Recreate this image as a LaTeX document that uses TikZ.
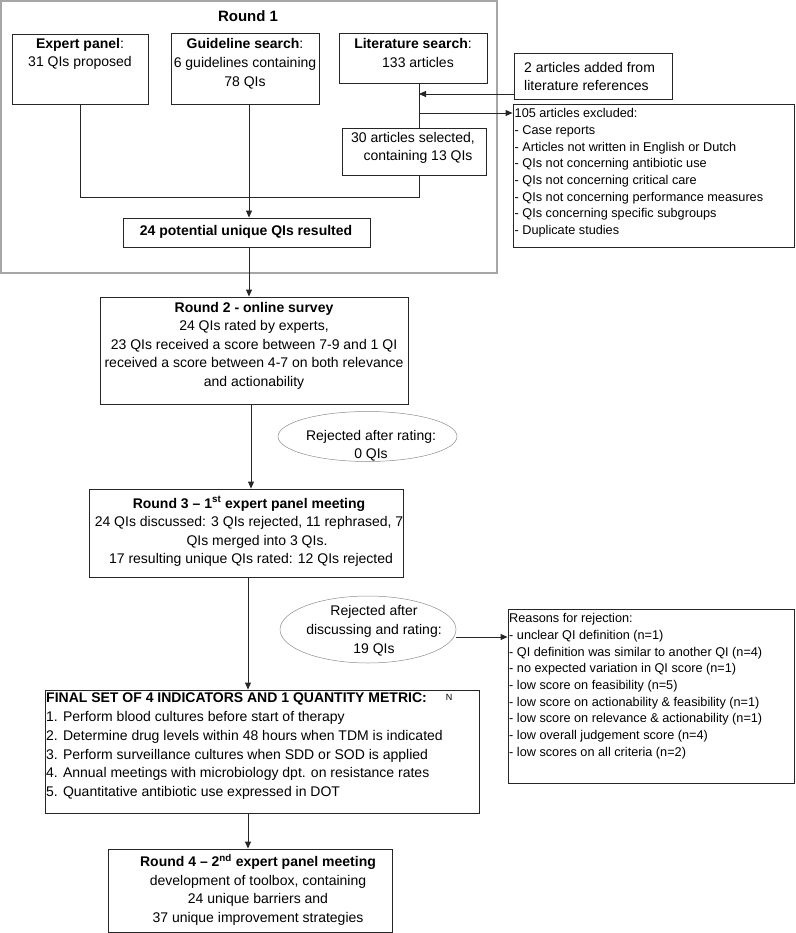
\documentclass[tikz,border=0pt]{standalone}
\usepackage{fontspec}
\setmainfont{Liberation Sans}
\usetikzlibrary{arrows.meta,fit,shapes.geometric}
\newcommand{\fsmain}{\fontsize{14pt}{18.5pt}\selectfont}
\newcommand{\fssmall}{\fontsize{12.7pt}{16.7pt}\selectfont}
\begin{document}
\begin{tikzpicture}[x=1pt,y=-1pt,
  box/.style={draw=black!85, line width=0.9pt, inner sep=0pt},
  grp/.style={draw=black!35, line width=1.2pt, inner sep=0pt},
  oval/.style={draw=black!45, line width=0.5pt, ellipse, inner sep=0pt},
  txt/.style={inner sep=0pt, align=center, font=\fsmain},
  ltxt/.style={inner sep=0pt, align=left, font=\fsmain},
  stxt/.style={inner sep=0pt, align=left, font=\fssmall},
  line/.style={draw=black!85, line width=0.9pt},
  arr/.style={line, -{Triangle[length=7pt,width=6pt]}}]
\useasboundingbox (0,0) rectangle (795,933);

% Round 1 group
\node[grp, fit={(1,1)(497,273)}] (r1) {};
\node[txt, anchor=base, font=\fontsize{15pt}{18pt}\selectfont\bfseries] (r1t) at (248,22) {Round 1};

\node[box, fit={(12,34)(148,104)}] (ep) {};
\node[txt, anchor=north] (ept) at (80,37.8) {\textbf{Expert panel}:\\31 QIs proposed};

\node[box, fit={(171,33)(319,104)}] (gs) {};
\node[txt, anchor=north, font=\fontsize{14pt}{19pt}\selectfont] (gst) at (245,37.8) {\textbf{Guideline search}:\\6 guidelines containing\\78 QIs};

\node[box, fit={(339,33)(487,83)}] (lit) {};
\node[txt, anchor=north, font=\fontsize{14pt}{19pt}\selectfont] (litt) at (413,37.8) {\textbf{Literature search}:\\\hspace*{10pt}133 articles};

\node[box, fit={(342,128)(486,175)}] (sel) {};
\node[txt, anchor=north] (selt) at (413,131.8) {30 articles selected,\\\hspace*{10pt}containing 13 QIs};

\node[box, fit={(123,218)(370,247)}] (pot) {};
\node[txt, anchor=base, font=\fsmain\bfseries] (pott) at (246,235) {24 potential unique QIs resulted};

\node[box, fit={(514,53)(672,99)}] (add) {};
\node[ltxt, anchor=north west] (addt) at (524,61.8) {2 articles added from\\literature references};

\node[box, fit={(513,104)(794,247)}] (exc) {};
\node[stxt, anchor=north west] (exct) at (514.5,108.3) {105 articles excluded:\\- Case reports\\- Articles not written in English or Dutch\\- QIs not concerning antibiotic use\\- QIs not concerning critical care\\- QIs not concerning performance measures\\- QIs concerning specific subgroups\\- Duplicate studies};

% Round 2
\node[box, fit={(100,297)(408,404)}] (r2) {};
\node[txt, anchor=north] (r2t) at (254,301.8) {\textbf{Round 2 - online survey}\\24 QIs rated by experts,\\23 QIs received a score between 7-9 and 1 QI\\received a score between 4-7 on both relevance\\and actionability};

\node[oval, minimum width=179pt, minimum height=50pt] (el1) at (367.5,436.5) {};
\node[txt, anchor=north, font=\fontsize{14pt}{18pt}\selectfont] (el1t) at (371,429.8) {Rejected after rating:\\0 QIs};

% Round 3
\node[box, fit={(89,489)(403,577)}] (r3) {};
\node[txt, anchor=north] (r3t) at (249,496.3) {\textbf{Round 3 \textendash{} 1\textsuperscript{st} expert panel meeting}\\24 QIs discussed: 3 QIs rejected, 11 rephrased, 7\\\hspace*{16pt}QIs merged into 3 QIs.\\\hspace*{4pt}17 resulting unique QIs rated: 12 QIs rejected};

\node[oval, minimum width=176pt, minimum height=67pt] (el2) at (368,629.5) {};
\node[txt, anchor=north, font=\fontsize{14pt}{19pt}\selectfont] (el2t) at (374,604.8) {Rejected after\\discussing and rating:\\19 QIs};

\node[box, fit={(508,609)(794,783)}] (rea) {};
\node[stxt, anchor=north west] (reat) at (509,613.3) {Reasons for rejection:\\- unclear QI definition (n=1)\\- QI definition was similar to another QI (n=4)\\- no expected variation in QI score (n=1)\\- low score on feasibility (n=5)\\- low score on actionability \& feasibility (n=1)\\- low score on relevance \& actionability (n=1)\\- low overall judgement score (n=4)\\- low scores on all criteria (n=2)};

% Final set
\node[box, fit={(45,690)(479,813)}] (fin) {};
\node[ltxt, anchor=north west, font=\fontsize{14pt}{18.8pt}\selectfont] (fint) at (46,692.8) {\textbf{FINAL SET OF 4 INDICATORS AND 1 QUANTITY METRIC:}\\1. Perform blood cultures before start of therapy\\2. Determine drug levels within 48 hours when TDM is indicated\\3. Perform surveillance cultures when SDD or SOD is applied\\4. Annual meetings with microbiology dpt. on resistance rates\\5. Quantitative antibiotic use expressed in DOT};
\node[inner sep=0pt, font=\fontsize{9pt}{9pt}\selectfont] (nmark) at (449,697) {N};

% Round 4
\node[box, fit={(108,849)(392,932)}] (r4) {};
\node[txt, anchor=north] (r4t) at (258,854.3) {\textbf{Round 4 \textendash{} 2\textsuperscript{nd} expert panel meeting}\\development of toolbox, containing\\24 unique barriers and\\37 unique improvement strategies};

% connectors
\coordinate (jr) at (419,197);
\coordinate (ain) at (419,94);
\coordinate (eout) at (419,113);
\coordinate (ax) at (249,0);
\coordinate (bx) at (251,0);
\coordinate (cx) at (248,0);
\coordinate (ry) at (0,637);

\draw[line] (ep.south) |- (jr) -- (sel.south -| jr);
\draw[line] (lit.south -| jr) -- (sel.north -| jr);
\draw[arr] (add.west |- ain) -- (ain);
\draw[arr] (eout) -- (exc.west |- eout);
\draw[arr] (gs.south -| ax) -- (pot.north -| ax);
\draw[arr] (pot.south -| ax) -- (r2.north -| ax);
\draw[arr] (r2.south -| bx) -- (r3.north -| bx);
\draw[arr] (r3.south -| cx) -- (fin.north -| cx);
\draw[arr] (fin.south -| cx) -- (r4.north -| cx);
\draw[arr] (el2.east |- ry) -- (rea.west |- ry);
\end{tikzpicture}
\end{document}
